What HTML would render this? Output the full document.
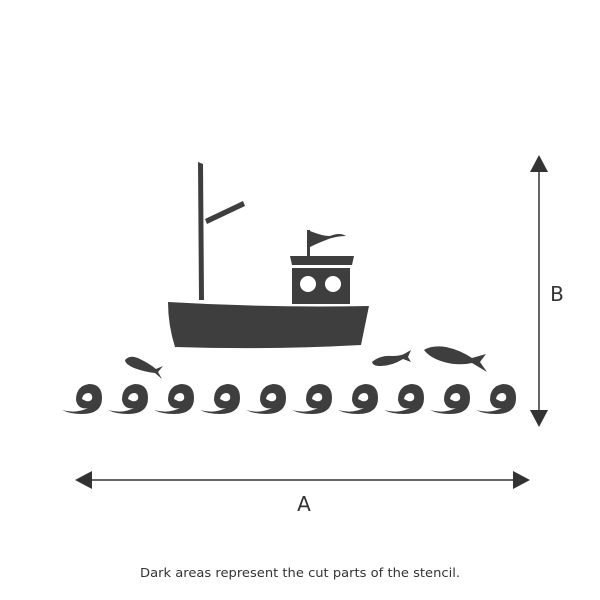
<!DOCTYPE html>
<html><head><style>
html,body{margin:0;padding:0;background:#fff;}
svg{display:block;}
</style></head><body>
<svg width="600" height="600" viewBox="0 0 600 600" xmlns="http://www.w3.org/2000/svg">
<defs>
<g id="wave">
<path d="M0,410 Q14,414 26,408 Q16,410 14,400 Q14,386 27,384 Q40,384 40,398 Q40,414 20,414 Q8,414 0,410 Z" fill="#3e3e3e"/>
<path d="M20,399 Q21,393 27,393 Q31,394 30,399 Q28,402 24,401 Z" fill="#fff"/>
</g>
</defs>
<polygon points="198,162 203,164 204,300 199,300" fill="#3e3e3e"/>
<polygon points="205,219 243,201 245,206 207,224" fill="#3e3e3e"/>
<path d="M168,302 Q270,308 369,306 L361,345 Q270,350 175,347 Q168,325 168,302 Z" fill="#3e3e3e"/>
<polygon points="290,256 354,256 352,265 292,265" fill="#3e3e3e"/>
<rect x="292" y="268" width="58" height="36" fill="#3e3e3e"/>
<circle cx="308" cy="284" r="8" fill="#fff"/>
<circle cx="333" cy="284" r="8" fill="#fff"/>
<rect x="307" y="230" width="3" height="26" fill="#3e3e3e"/>
<path d="M310,231 Q322,236 330,236 Q340,232 346,236 Q336,236 326,240 Q318,243 310,247 Z" fill="#3e3e3e"/>
<path d="M125,360 Q130,354 140,359 Q150,364 156,369 L163,366 L158,372 L162,379 L155,373 Q145,372 134,368 Q125,364 125,360 Z" fill="#3e3e3e"/>
<path d="M372,362 Q380,355 392,356 Q400,356 404,354 L411,350 L408,357 L411,362 L403,359 Q392,366 380,366 Q373,366 372,362 Z" fill="#3e3e3e"/>
<path d="M424,350 Q432,345 446,347 Q460,350 472,358 L486,354 L480,362 L487,372 L472,363 Q458,366 444,362 Q430,358 424,350 Z" fill="#3e3e3e"/>
<use href="#wave" x="62"/><use href="#wave" x="108"/><use href="#wave" x="154"/><use href="#wave" x="200"/><use href="#wave" x="246"/>
<use href="#wave" x="292"/><use href="#wave" x="338"/><use href="#wave" x="384"/><use href="#wave" x="430"/><use href="#wave" x="476"/>
<line x1="539" y1="165" x2="539" y2="416" stroke="#333" stroke-width="1.5"/>
<polygon points="539,155 530,172 548,172" fill="#333"/>
<polygon points="539,427 530,410 548,410" fill="#333"/>
<text x="557" y="301" font-family="DejaVu Sans, sans-serif" font-size="20" fill="#333" text-anchor="middle">B</text>
<line x1="85" y1="480" x2="520" y2="480" stroke="#333" stroke-width="1.5"/>
<polygon points="75,480 92,471 92,489" fill="#333"/>
<polygon points="530,480 513,471 513,489" fill="#333"/>
<text x="304" y="511" font-family="DejaVu Sans, sans-serif" font-size="20" fill="#333" text-anchor="middle">A</text>
<text x="140" y="577" font-family="DejaVu Sans, sans-serif" font-size="12" fill="#333" textLength="320" lengthAdjust="spacingAndGlyphs">Dark areas represent the cut parts of the stencil.</text>
</svg>
</body></html>
